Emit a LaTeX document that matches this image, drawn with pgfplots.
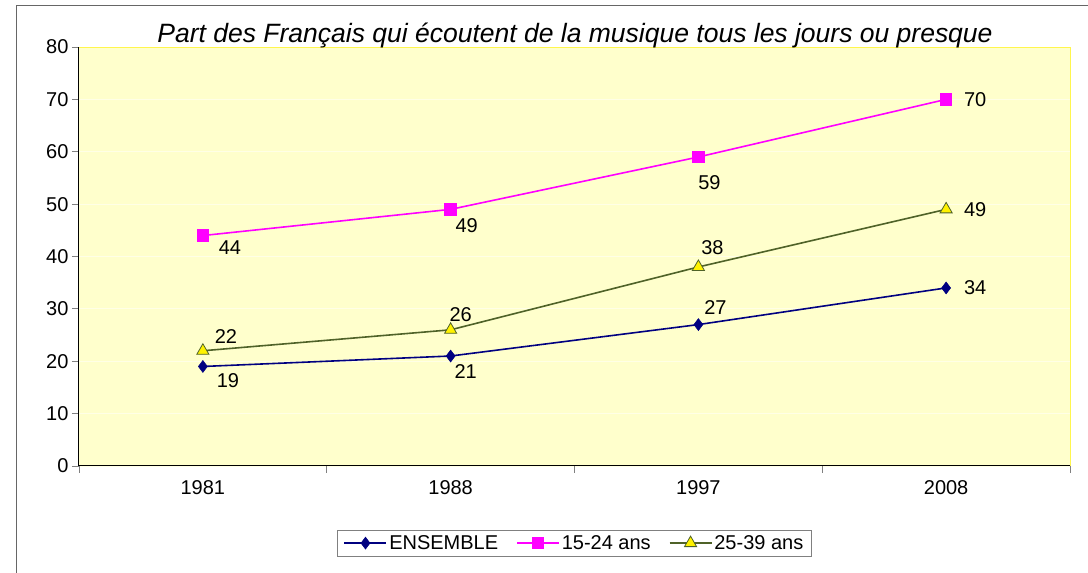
\documentclass[border=0pt]{standalone}
\usepackage{fontspec}
\setmainfont{Liberation Sans}
\usepackage{pgfplots}
\pgfplotsset{compat=1.18}
\definecolor{bg}{HTML}{FFFFCC}
\definecolor{navyc}{HTML}{000080}
\definecolor{magc}{HTML}{FF00FF}
\definecolor{olivec}{HTML}{4F6228}
\definecolor{gridc}{HTML}{FFFFE6}
\newcommand{\lab}{\fontsize{20}{23}\selectfont}
\begin{document}
\begin{tikzpicture}[x=1pt,y=1pt]
\useasboundingbox (0,0) rectangle (1088,573);
\draw[gray!80!black, line width=1pt] (16,0) -- (16,567) -- (1088,567);
\begin{axis}[
  at={(79pt,107pt)}, anchor=south west,
  scale only axis, width=991pt, height=419pt,
  xmin=-0.5, xmax=3.5, ymin=0, ymax=80,
  ytick={0,10,...,80},
  xtick={0,1,2,3}, xticklabels={1981,1988,1997,2008},
  minor xtick={-0.5,0.5,1.5,2.5,3.5},
  axis lines*=left,
  axis line style={black, line width=1pt},
  axis background/.style={fill=bg},
  tick align=outside,
  major tick length=7pt, minor tick length=7pt,
  major x tick style={draw=none},
  minor x tick style={gray, line width=0.8pt},
  major y tick style={gray, line width=0.8pt},
  ymajorgrids, major y grid style={gridc, line width=0.8pt},
  /pgf/number format/assume math mode=true,
  tick label style={font=\lab},
  xticklabel style={yshift=-4pt},
  legend style={at={(0.5,-0.153)}, anchor=north, legend columns=3,
    draw=gray, line width=0.6pt, font=\lab, inner xsep=6pt, inner ysep=3pt,
    /tikz/every even column/.append style={column sep=16pt}},
  legend image code/.code={\draw[mark repeat=2,mark phase=2] plot coordinates {(0pt,0pt)(21pt,0pt)(42pt,0pt)};},
  after end axis/.code={\draw[yellow!70!white, line width=0.8pt] (rel axis cs:0,1) -- (rel axis cs:1,1) -- (rel axis cs:1,0);},
]
\addplot[navyc, line width=1.6pt, mark=diamond*, mark size=6pt, mark options={fill=navyc, line width=0.5pt}]
  coordinates {(0,19) (1,21) (2,27) (3,34)};
\addlegendentry{ENSEMBLE}
\addplot[magc, line width=1.6pt, mark=square*, mark size=5.5pt, mark options={fill=magc}]
  coordinates {(0,44) (1,49) (2,59) (3,70)};
\addlegendentry{15-24 ans}
\addplot[olivec, line width=1.6pt, mark=triangle*, mark size=7pt, mark options={fill=yellow, draw=olivec, line width=0.8pt}]
  coordinates {(0,22) (1,26) (2,38) (3,49)};
\addlegendentry{25-39 ans}

\node[font=\lab, xshift=25pt, yshift=-14pt] at (axis cs:0,19) {19};
\node[font=\lab, xshift=15pt, yshift=-16pt] at (axis cs:1,21) {21};
\node[font=\lab, xshift=17pt, yshift=17pt] at (axis cs:2,27) {27};
\node[font=\lab, xshift=29pt, yshift=0pt] at (axis cs:3,34) {34};
\node[font=\lab, xshift=27pt, yshift=-12pt] at (axis cs:0,44) {44};
\node[font=\lab, xshift=16pt, yshift=-16pt] at (axis cs:1,49) {49};
\node[font=\lab, xshift=11pt, yshift=-26pt] at (axis cs:2,59) {59};
\node[font=\lab, xshift=29pt, yshift=0pt] at (axis cs:3,70) {70};
\node[font=\lab, xshift=23pt, yshift=14pt] at (axis cs:0,22) {22};
\node[font=\lab, xshift=10pt, yshift=15pt] at (axis cs:1,26) {26};
\node[font=\lab, xshift=14pt, yshift=19pt] at (axis cs:2,38) {38};
\node[font=\lab, xshift=29pt, yshift=0pt] at (axis cs:3,49) {49};
\end{axis}
\node[font=\fontsize{26.5}{30}\selectfont\itshape] at (575,538) {Part des Français qui écoutent de la musique tous les jours ou presque};
\end{tikzpicture}
\end{document}
